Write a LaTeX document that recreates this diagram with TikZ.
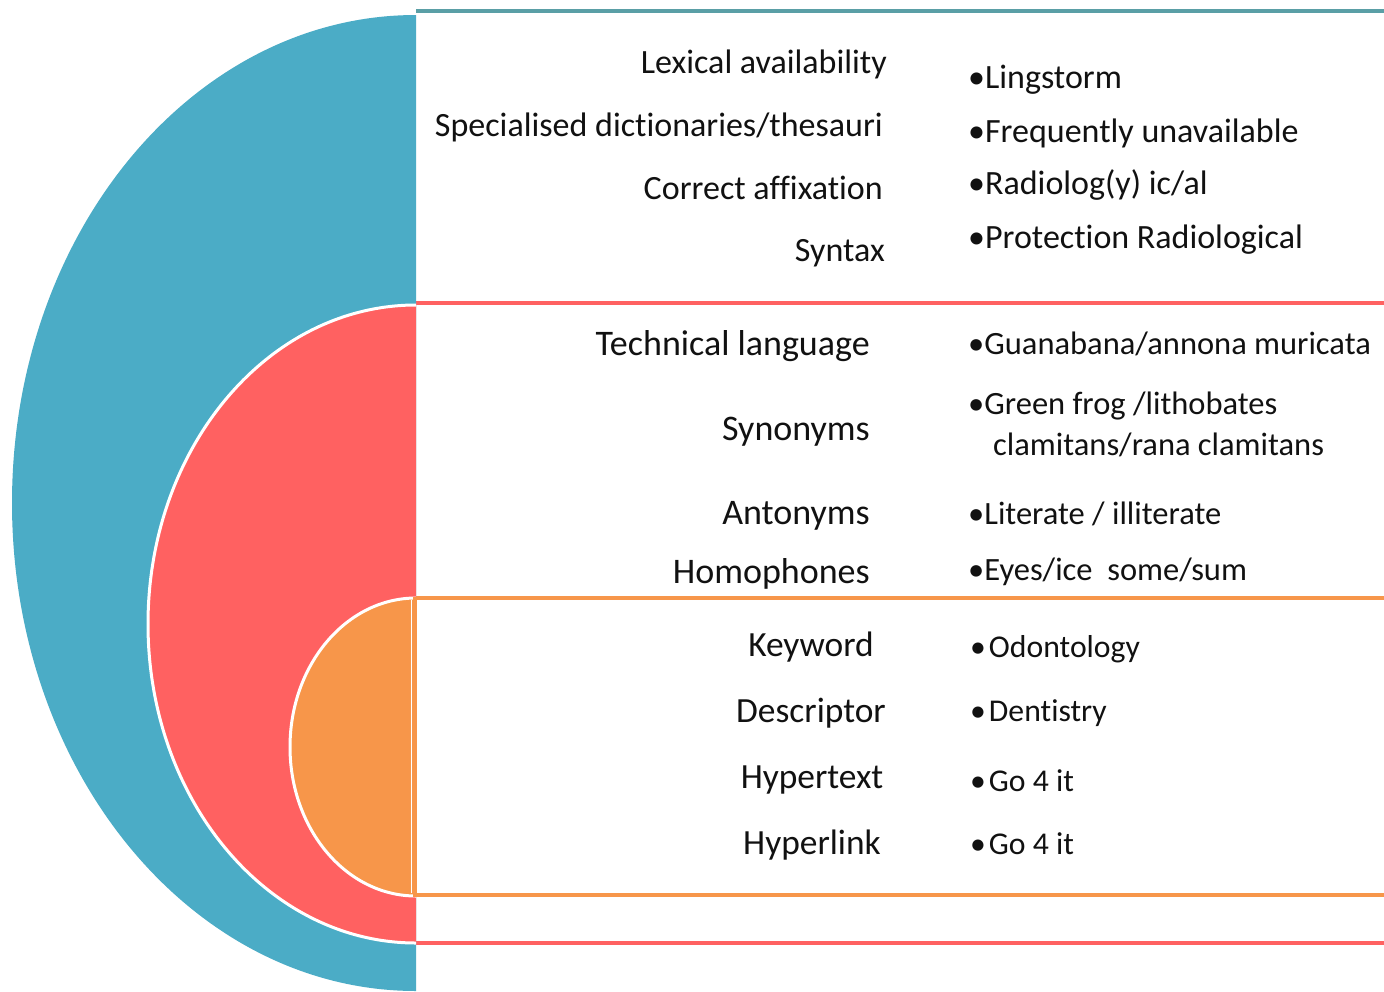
\documentclass[tikz,border=0pt]{standalone}
\usepackage{fontspec}
\setmainfont{Carlito}[Ligatures=NoCommon]
\definecolor{cblue}{HTML}{4BACC6}
\definecolor{cblueline}{HTML}{5A9FA6}
\definecolor{cred}{HTML}{FF6161}
\definecolor{corange}{HTML}{F7964A}
\definecolor{ctext}{HTML}{111111}
\begin{document}
\begin{tikzpicture}[x=1pt,y=-1pt,
  lbl/.style={inner sep=0pt,text=ctext,font=\fontsize{34}{40}\selectfont},
  rlbl/.style={lbl,anchor=base east},
  clbl/.style={lbl,anchor=base},
  vlbl/.style={lbl,anchor=base west},
  bigf/.style={font=\fontsize{36}{42}\selectfont},
  midf/.style={font=\fontsize{35.4}{42}\selectfont},
  smallf/.style={font=\fontsize{32.5}{38}\selectfont},
  tinyf/.style={font=\fontsize{31.7}{38}\selectfont},
  band/.style={line width=4.5pt}]
\useasboundingbox (0,0) rectangle (1384,991);
\fill[white] (0,0) rectangle (1384,991);
% horizontal borders of the three boxes
\draw[band,cblueline] (416,11) -- (1384,11);
\draw[band,cred] (413,303) -- (1384,303);
\draw[band,corange] (413,598) -- (1384,598);
\draw[band,corange] (413,895) -- (1384,895);
\draw[band,cred] (413,943) -- (1384,943);
% half discs
\begin{scope}
\clip (0,0) rectangle (416,991);
\fill[cblue] (416,503) ellipse [x radius=404, y radius=488];
\fill[cred,draw=white,line width=3pt] (416,624) ellipse [x radius=268, y radius=319];
\fill[corange,draw=white,line width=3pt] (416,747) ellipse [x radius=126, y radius=149];
\end{scope}
\draw[white,line width=1.5pt] (411.5,600) -- (411.5,893);
\draw[corange,line width=4pt] (414.5,597) -- (414.5,897);
% blue group
\node[rlbl] (b1) at (887,73) {Lexical availability};
\node[rlbl] (b2) at (883,136) {Specialised dictionaries/thesauri};
\node[rlbl] (b3) at (883,199) {Correct affixation};
\node[rlbl] (b4) at (885,261) {Syntax};
\node[vlbl] (bv1) at (968,88) {•Lingstorm};
\node[vlbl] (bv2) at (968,142) {•Frequently unavailable};
\node[vlbl] (bv3) at (968,194) {•Radiolog(y) ic/al};
\node[vlbl] (bv4) at (968,248) {•Protection Radiological};
% red group
\node[rlbl,bigf] (r1) at (870,355) {Technical language};
\node[rlbl,bigf] (r2) at (870,440) {Synonyms};
\node[rlbl,bigf] (r3) at (870,524) {Antonyms};
\node[rlbl,bigf] (r4) at (870,583) {Homophones};
\node[vlbl,smallf] (rv1) at (968,354) {•Guanabana/annona muricata};
\node[vlbl,smallf] (rv2) at (968,414) {•Green frog /lithobates};
\node[vlbl,smallf] (rv3) at (993,455) {clamitans/rana clamitans};
\node[vlbl,smallf] (rv4) at (968,524) {•Literate / illiterate};
\node[vlbl,smallf] (rv5) at (968,580) {•Eyes/ice\ \ some/sum};
% orange group
\node[clbl,midf] (o1) at (811,656) {Keyword};
\node[clbl,midf] (o2) at (811,722) {Descriptor};
\node[clbl,midf] (o3) at (812,788) {Hypertext};
\node[clbl,midf] (o4) at (812,854) {Hyperlink};
\node[vlbl,tinyf] (ov1) at (970,657) {•\hspace{3pt}Odontology};
\node[vlbl,tinyf] (ov2) at (970,721) {•\hspace{3pt}Dentistry};
\node[vlbl,tinyf] (ov3) at (970,791) {•\hspace{3pt}Go 4 it};
\node[vlbl,tinyf] (ov4) at (970,854) {•\hspace{3pt}Go 4 it};
\end{tikzpicture}
\end{document}
